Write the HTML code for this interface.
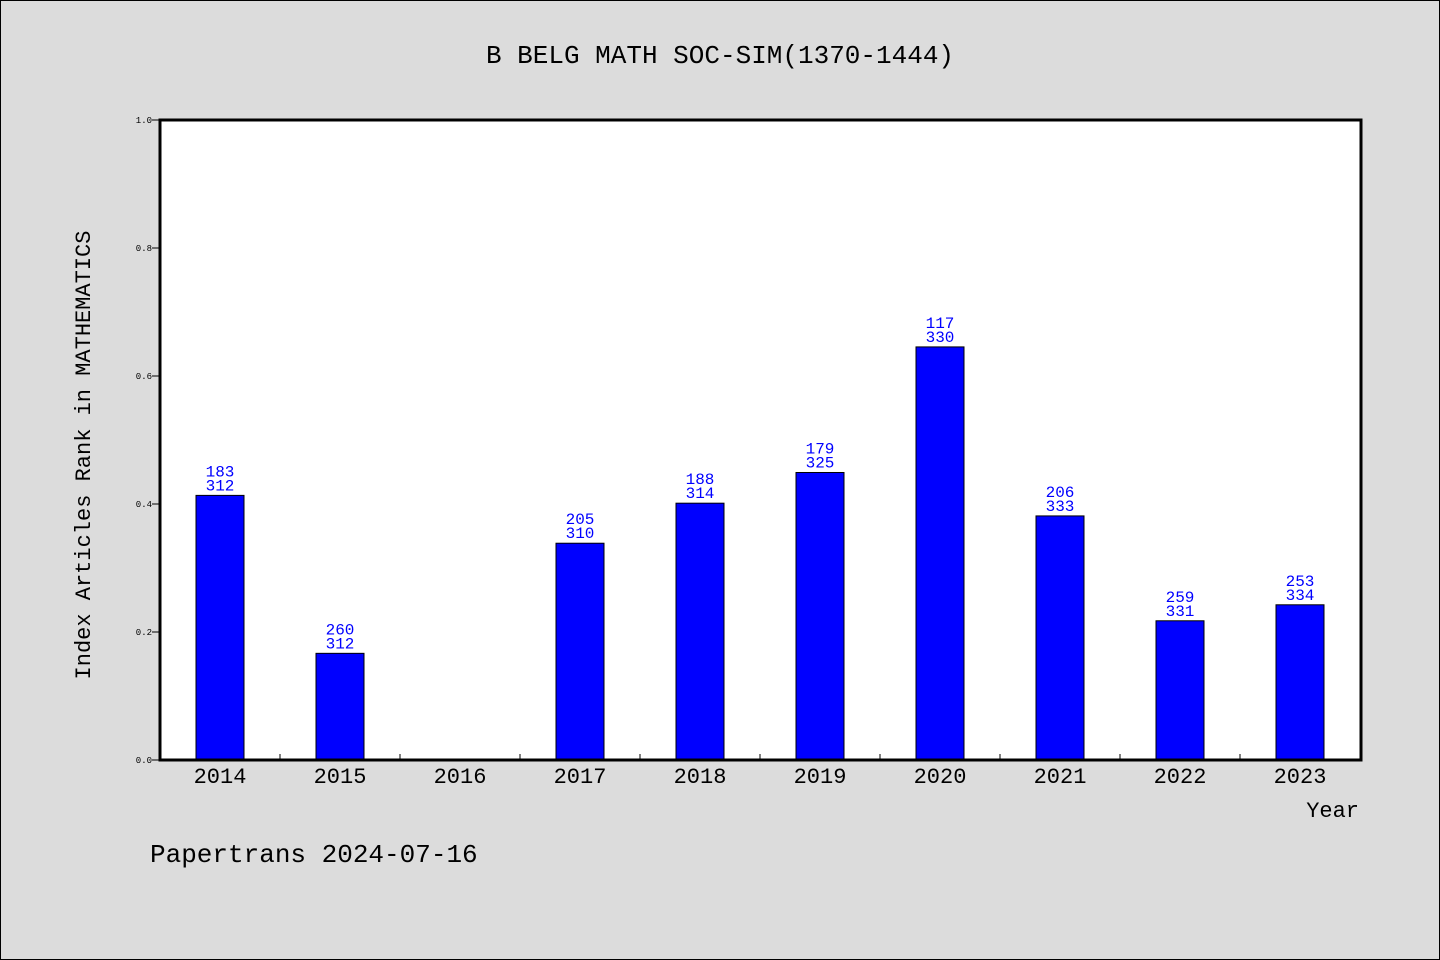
<!DOCTYPE html>
<html><head><meta charset="utf-8"><style>
body{margin:0;background:#dcdcdc;}
svg{display:block;font-family:"WenQuanYi Zen Hei","Liberation Mono",monospace;}
</style></head><body>
<svg id="chart" width="1440" height="960">
<rect x="0.5" y="0.5" width="1439" height="959" fill="#dcdcdc" stroke="#000"/>
<text x="720" y="63" text-anchor="middle" font-size="26">B BELG MATH SOC-SIM(1370-1444)</text>
<rect x="160" y="120" width="1201" height="640" fill="#fff"/>
<g id="marks"></g>
<rect x="160" y="120" width="1201" height="640" fill="none" stroke="#000" stroke-width="3"/>
<text x="90" y="455" text-anchor="middle" font-size="22" transform="rotate(-90 90 455)">Index Articles Rank in MATHEMATICS</text>
<text x="1359" y="817" text-anchor="end" font-size="22">Year</text>
<text x="150" y="862" font-size="26">Papertrans 2024-07-16</text>
</svg>
<script>
const years=["2014","2015","2016","2017","2018","2019","2020","2021","2022","2023"];
const ranks=[183,260,null,205,188,179,117,206,259,253];
const totals=[312,312,null,310,314,325,330,333,331,334];
const yTicks=["0.0","0.2","0.4","0.6","0.8","1.0"];
const NS="http://www.w3.org/2000/svg";
const g=document.getElementById("marks");
const X0=160,W=1201,Y0=760,H=640,step=120;
const xc=i=>X0+step*(i+0.5);
const ys=v=>Y0-v*H;
function mk(t,a){const e=document.createElementNS(NS,t);for(const k in a)e.setAttribute(k,a[k]);g.appendChild(e);return e;}
yTicks.forEach(t=>{
 const y=ys(parseFloat(t));
 const l=mk("line",{x1:X0-8,x2:X0,y1:y,y2:y,stroke:"#000"});
 
 
 const tx=mk("text",{x:X0-8,y:y+3,"text-anchor":"end","font-size":"9"});
 
 
 tx.textContent=t;
});
years.forEach((yr,i)=>{
 if(i>0){const l=mk("line",{x1:X0+step*i,x2:X0+step*i,y1:Y0,y2:Y0-6,stroke:"#000"});
 
 }
 const t=mk("text",{x:xc(i),y:783,"text-anchor":"middle","font-size":"22"});
 
 
 t.textContent=yr;
 if(ranks[i]==null)return;
 const v=1-ranks[i]/totals[i];
 const b=mk("rect",{x:xc(i)-24,y:ys(v),width:48,height:Y0-ys(v),fill:"#0000ff",stroke:"#000","stroke-width":"1"});
 
 
 const a=mk("text",{x:xc(i),y:ys(v)-19,"text-anchor":"middle","font-size":"16",fill:"#0000ff"});
 
 
 a.textContent=ranks[i];
 const c=mk("text",{x:xc(i),y:ys(v)-5,"text-anchor":"middle","font-size":"16",fill:"#0000ff"});
 
 
 c.textContent=totals[i];
});
</script>
</body></html>
